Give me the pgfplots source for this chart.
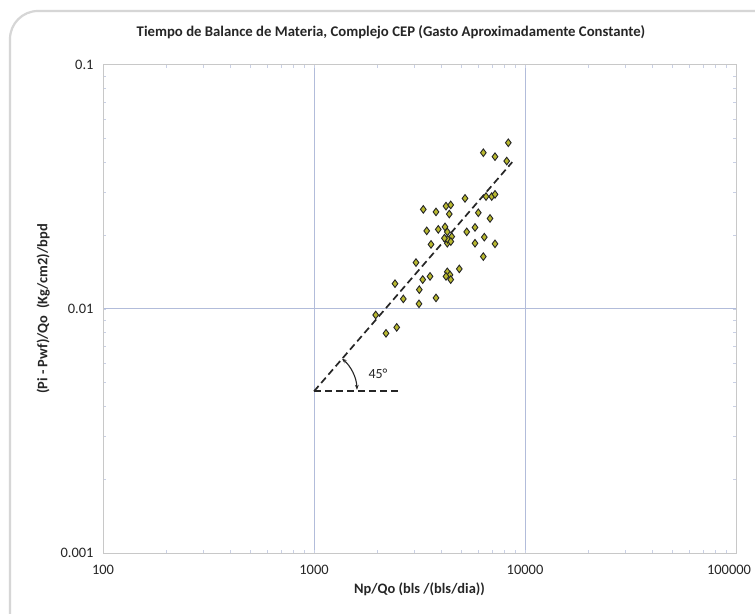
\documentclass[border=0pt]{standalone}
\usepackage{pgfplots}
\pgfplotsset{compat=1.18}
\usepackage{fontspec}
\setmainfont{Carlito}
\usetikzlibrary{arrows.meta}

\definecolor{gridblue}{RGB}{178,188,218}
\definecolor{framegray}{RGB}{200,200,200}
\definecolor{cardgray}{RGB}{214,214,214}
\definecolor{markfill}{RGB}{184,184,46}

\begin{document}
\begin{tikzpicture}[x=1bp,y=1bp]
\useasboundingbox (0,0) rectangle (755,614);
\fill[white] (0,0) rectangle (755,614);
% card outline
\draw[cardgray, line width=2.2bp, rounded corners=28bp] (10,-20) -- (10,603) -- (790,603);

\begin{axis}[
  at={(103bp,61bp)}, anchor=south west,
  width=633bp, height=488bp, scale only axis,
  xmode=log, ymode=log,
  xmin=100, xmax=100000, ymin=0.001, ymax=0.1,
  xtick={100,1000,10000,100000},
  xticklabels={100,1000,10000,\makebox[0pt]{\hspace{-14bp}100000}},
  ytick={0.001,0.01,0.1},
  yticklabels={0.001,0.01,0.1},
  minor tick num=0,
  major tick length=0pt,
  minor tick length=3bp,
  every minor tick/.style={gridblue!70, line width=0.6bp},
  grid=major,
  major grid style={gridblue, line width=1bp},
  axis line style={framegray, line width=1bp},
  tick label style={font=\fontsize{14.5}{16}\selectfont, text=black!85},
  xticklabel style={yshift=-9bp},
  yticklabel style={xshift=-6bp},
  xlabel={\textbf{Np/Qo (bls /(bls/dia))}},
  ylabel={\textbf{(Pi - Pwf)/Qo\ \ (Kg/cm2)/bpd}},
  label style={font=\fontsize{14.5}{16}\selectfont, text=black!85},
  xlabel style={yshift=-1bp},
  ylabel style={yshift=4bp},
  clip=false,
]
% 45-degree reference line and baseline
\addplot[black!85, line width=1.7bp, dash pattern=on 7bp off 4bp] coordinates {(1000,0.0046) (8700,0.0400)};
\addplot[black!85, line width=1.7bp, dash pattern=on 7bp off 4bp] coordinates {(1000,0.0046) (2550,0.0046)};

% measured points
\addplot[only marks, mark=diamond*, mark size=3.8bp,
  mark options={fill=markfill, draw=black!85, line width=0.9bp}] coordinates {
(8334,0.0480) (6345,0.0437) (7208,0.0421) (8190,0.0404)
(6536,0.0289) (6955,0.0289) (7208,0.0295) (5195,0.0284)
(3296,0.0256) (3786,0.0250) (4222,0.0264) (4445,0.0267)
(4377,0.0245) (6007,0.0248) (6827,0.0235)
(3421,0.0209) (3882,0.0212) (4177,0.0217) (4283,0.0207)
(4494,0.0198) (5293,0.0207) (5794,0.0216)
(3585,0.0184) (4283,0.0186) (4300,0.0193) (4450,0.0189) (4150,0.0195)
(5794,0.0186) (6414,0.0197) (7208,0.0185) (6345,0.0164)
(3043,0.0155) (4882,0.0146) (4283,0.0142) (4411,0.0138)
(4222,0.0136) (4445,0.0132) (3275,0.0132) (3547,0.0136)
(2420,0.0127) (3155,0.0120) (2650,0.0110) (3786,0.0111)
(3145,0.0105) (1960,0.00945) (2466,0.00841) (2194,0.00795)
};

% angle marker
\draw[black!85, line width=1.1bp, {Stealth[length=5bp]}-{Stealth[length=5bp]}]
  (axis cs:1000,0.0046) ++(49.6:43bp) arc[start angle=49.6, end angle=2, radius=43bp];
\node[font=\fontsize{14}{16}\selectfont, text=black!85] at (axis cs:1000,0.0046) [xshift=64bp, yshift=18bp] {45°};
\end{axis}

\node[font=\bfseries\fontsize{14.8}{16}\selectfont, text=black!85] at (391,582) {Tiempo de Balance de Materia, Complejo CEP (Gasto Aproximadamente Constante)};
\end{tikzpicture}
\end{document}
